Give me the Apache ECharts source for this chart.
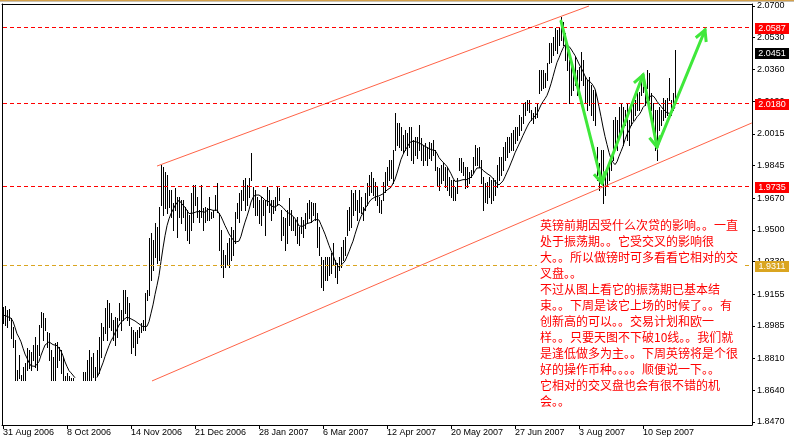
<!DOCTYPE html>
<html><head><meta charset="utf-8">
<script src="https://cdn.jsdelivr.net/npm/echarts@6/dist/echarts.min.js"></script>
<style>html,body{margin:0;padding:0;background:#fff}#c{width:794px;height:445px}</style>
</head><body><div id="c"></div>
<script>
// ---- data ----
const dateLabels = ['31 Aug 2006','8 Oct 2006','14 Nov 2006','21 Dec 2006','28 Jan 2007','6 Mar 2007','12 Apr 2007','20 May 2007','27 Jun 2007','3 Aug 2007','10 Sep 2007'];
const dateLabelBars = [0,32,64,96,128,160,192,224,256,288,320];
const priceTicks = [2.0700,2.0530,2.0360,2.0190,2.0015,1.9845,1.9670,1.9500,1.9330,1.9155,1.8985,1.8810,1.8640,1.8470];

const highs = [
1.9086,1.9092,1.9070,1.9076,1.9028,1.8980,1.8910,1.8749,1.8829,1.8722,
1.8765,1.8786,1.8867,1.8856,1.8845,1.8883,1.8926,1.8883,1.8990,1.9060,
1.9054,1.9028,1.8953,1.8947,1.8856,1.8818,1.8894,1.8899,1.8872,1.8856,
1.8818,1.8717,1.8733,1.8717,1.8706,1.8706,1.8680,1.8660,1.8670,1.8690,
1.8738,1.8738,1.8802,1.8856,1.8818,1.8840,1.8765,1.8856,1.8926,1.9001,
1.8980,1.9081,1.9124,1.9108,1.9054,1.9017,1.9033,1.9028,1.9108,1.9070,
1.9178,1.9178,1.9140,1.9108,1.8980,1.8963,1.8953,1.8963,1.8980,1.9001,
1.9017,1.9162,1.9178,1.9456,1.9483,1.9446,1.9537,1.9515,1.9622,1.9848,
1.9837,1.9810,1.9794,1.9714,1.9714,1.9644,1.9724,1.9676,1.9676,1.9660,
1.9660,1.9622,1.9606,1.9579,1.9698,1.9740,1.9740,1.9676,1.9606,1.9740,
1.9617,1.9622,1.9617,1.9676,1.9596,1.9606,1.9687,1.9751,1.9590,1.9499,
1.9392,1.9365,1.9430,1.9456,1.9515,1.9499,1.9596,1.9644,1.9698,1.9714,
1.9767,1.9778,1.9740,1.9778,1.9912,1.9730,1.9714,1.9676,1.9660,1.9676,
1.9660,1.9660,1.9730,1.9714,1.9660,1.9660,1.9676,1.9730,1.9724,1.9606,
1.9569,1.9564,1.9606,1.9671,1.9606,1.9569,1.9553,1.9569,1.9515,1.9569,
1.9553,1.9590,1.9644,1.9660,1.9649,1.9644,1.9644,1.9590,1.9515,1.9354,
1.9338,1.9354,1.9354,1.9354,1.9376,1.9430,1.9338,1.9322,1.9354,1.9408,
1.9446,1.9462,1.9606,1.9622,1.9714,1.9698,1.9714,1.9660,1.9714,1.9676,
1.9622,1.9698,1.9751,1.9794,1.9810,1.9778,1.9756,1.9730,1.9676,1.9660,
1.9756,1.9810,1.9837,1.9874,1.9874,1.9928,2.0126,2.0073,2.0073,2.0051,
2.0008,2.0035,2.0019,2.0051,2.0051,1.9982,1.9998,1.9998,2.0062,1.9992,
1.9955,1.9966,1.9944,1.9971,1.9966,1.9982,1.9928,1.9837,1.9832,1.9848,
1.9858,1.9837,1.9837,1.9783,1.9767,1.9767,1.9730,1.9778,1.9885,1.9885,
1.9864,1.9837,1.9837,1.9810,1.9821,1.9890,1.9955,1.9939,1.9944,1.9874,
1.9783,1.9751,1.9756,1.9783,1.9767,1.9778,1.9767,1.9848,1.9890,1.9890,
1.9944,1.9971,1.9998,1.9998,2.0019,2.0035,2.0051,2.0051,2.0116,2.0105,
2.0180,2.0185,2.0196,2.0196,2.0142,2.0126,2.0158,2.0180,2.0357,2.0357,
2.0357,2.0341,2.0394,2.0502,2.0502,2.0534,2.0582,2.0571,2.0587,2.0641,
2.0614,2.0555,2.0480,2.0410,2.0394,2.0373,2.0426,2.0357,2.0373,2.0453,
2.0410,2.0319,2.0303,2.0319,2.0276,2.0250,2.0250,1.9944,1.9858,1.9928,
1.9928,1.9805,1.9837,1.9874,1.9890,2.0089,2.0105,2.0089,2.0158,2.0180,
2.0158,2.0142,2.0180,2.0089,2.0180,2.0196,2.0196,2.0234,2.0239,2.0319,
2.0341,2.0250,2.0357,2.0341,2.0234,2.0180,2.0142,2.0142,2.0158,2.0142,
2.0207,2.0196,2.0207,2.0314,2.0196,2.0234,2.0464
];
const lows = [
1.9001,1.8990,1.8980,1.9017,1.8920,1.8872,1.8660,1.8650,1.8706,1.8655,
1.8640,1.8665,1.8749,1.8760,1.8749,1.8802,1.8765,1.8749,1.8829,1.8980,
1.8910,1.8963,1.8872,1.8802,1.8670,1.8640,1.8660,1.8765,1.8802,1.8733,
1.8650,1.8620,1.8600,1.8580,1.8590,1.8560,1.8540,1.8520,1.8530,1.8560,
1.8600,1.8620,1.8640,1.8660,1.8680,1.8711,1.8670,1.8722,1.8733,1.8818,
1.8910,1.8947,1.8910,1.8980,1.8963,1.8910,1.8883,1.8926,1.9017,1.8963,
1.9017,1.9054,1.9017,1.8990,1.8840,1.8872,1.8829,1.8894,1.8926,1.8953,
1.8963,1.8963,1.9124,1.9151,1.9231,1.9285,1.9354,1.9322,1.9338,1.9633,
1.9579,1.9617,1.9590,1.9622,1.9569,1.9499,1.9606,1.9462,1.9569,1.9537,
1.9569,1.9499,1.9446,1.9430,1.9499,1.9542,1.9633,1.9569,1.9542,1.9569,
1.9499,1.9542,1.9553,1.9553,1.9564,1.9569,1.9606,1.9596,1.9392,1.9301,
1.9247,1.9301,1.9312,1.9301,1.9338,1.9365,1.9430,1.9564,1.9542,1.9606,
1.9660,1.9606,1.9633,1.9676,1.9767,1.9622,1.9579,1.9579,1.9537,1.9526,
1.9579,1.9472,1.9633,1.9596,1.9553,1.9590,1.9606,1.9633,1.9660,1.9446,
1.9472,1.9392,1.9430,1.9526,1.9499,1.9499,1.9472,1.9430,1.9419,1.9483,
1.9462,1.9510,1.9537,1.9564,1.9542,1.9579,1.9553,1.9408,1.9365,1.9194,
1.9178,1.9231,1.9231,1.9258,1.9269,1.9312,1.9247,1.9215,1.9285,1.9301,
1.9338,1.9365,1.9472,1.9499,1.9515,1.9579,1.9606,1.9553,1.9596,1.9590,
1.9553,1.9606,1.9633,1.9687,1.9703,1.9687,1.9660,1.9633,1.9596,1.9590,
1.9660,1.9703,1.9740,1.9767,1.9778,1.9751,1.9928,1.9955,1.9944,1.9928,
1.9912,1.9928,1.9901,1.9944,1.9874,1.9858,1.9901,1.9885,1.9928,1.9874,
1.9848,1.9874,1.9848,1.9885,1.9874,1.9901,1.9821,1.9740,1.9714,1.9751,
1.9767,1.9730,1.9714,1.9687,1.9676,1.9660,1.9660,1.9698,1.9821,1.9810,
1.9794,1.9724,1.9730,1.9751,1.9783,1.9805,1.9848,1.9848,1.9837,1.9751,
1.9606,1.9649,1.9644,1.9676,1.9644,1.9660,1.9687,1.9730,1.9767,1.9794,
1.9821,1.9874,1.9890,1.9917,1.9928,1.9928,1.9966,1.9982,2.0008,2.0035,
2.0073,2.0116,2.0142,2.0132,2.0089,2.0073,2.0100,2.0105,2.0234,2.0250,
2.0260,2.0266,2.0303,2.0394,2.0400,2.0437,2.0464,2.0448,2.0491,2.0518,
2.0491,2.0410,2.0357,2.0180,2.0223,2.0250,2.0276,2.0223,2.0234,2.0303,
2.0276,2.0180,2.0142,2.0169,2.0116,2.0089,2.0062,1.9767,1.9714,1.9767,
1.9644,1.9687,1.9740,1.9767,1.9821,1.9874,1.9955,1.9928,2.0008,2.0035,
1.9955,2.0062,1.9982,1.9955,2.0062,2.0089,2.0116,2.0142,2.0142,2.0223,
2.0239,2.0169,2.0260,2.0196,2.0142,2.0051,1.9928,1.9874,2.0035,2.0062,
2.0089,2.0105,2.0116,2.0196,2.0116,2.0142,2.0180
];

const levelLines = [2.0587, 2.0180, 1.9735];   // red dashed levels
const supportLevel = 1.9311;                    // goldenrod dashed level
const lastPrice = 2.0451;                       // current price box (no line)
const upperChannel = [[77, 1.9842], [293, 2.0700]];
const lowerChannel = [[74.5, 1.8690], [374.4, 2.0073]];
const arrowPath = [[279, 2.0619], [299.5, 1.9751], [320, 2.0330], [327, 1.9944], [351, 2.0571]];
const maPeriod = 10;
const clipFloor = 1.8695;   // the picture shows nothing below this price
const noteLines = [
'英镑前期因受什么次贷的影响。。一直',
'处于振荡期。。它受交叉的影响很',
'大。。所以做镑时可多看看它相对的交',
'叉盘。。',
'不过从图上看它的振荡期已基本结',
'束。。下周是该它上场的时候了。。有',
'创新高的可以。。交易计划和欧一',
'样。。只要天图不下破10线。。我们就',
'是逢低做多为主。。下周英镑将是个很',
'好的操作币种。。。。顺便说一下。。',
'它相对的交叉盘也会有很不错的机',
'会。。'
];

// ---- build ----
const barData = highs.map((h, i) => [i, h, lows[i]]);
const mids = highs.map((h, i) => (h + lows[i]) / 2);
const maData = mids.map((_, i) => {
  const s = Math.max(0, i - maPeriod + 1);
  let sum = 0; for (let k = s; k <= i; k++) sum += mids[k];
  const v = sum / (i - s + 1);
  return [i, v < clipFloor ? null : v];
});
const arrowData = [];
for (let k = 0; k < arrowPath.length - 1; k++) arrowData.push([arrowPath[k][0], arrowPath[k][1], arrowPath[k+1][0], arrowPath[k+1][1]]);

// level table: [price, style index]
const levelStyles = [
  { color: '#ff0000', line: true },
  { color: '#daa520', line: true },
  { color: '#000000', line: false }
];
const levelData = levelLines.map(v => [v, 0]).concat([[supportLevel, 1], [lastPrice, 2]]);

const GREEN = '#3fe83a';
const FONT = 'Liberation Sans';

const chart = echarts.init(document.getElementById('c'), null, { renderer: 'canvas' });
chart.setOption({
  animation: false,
  backgroundColor: '#fff',
  grid: { left: 2, right: 42, top: 4, bottom: 20, containLabel: false },
  xAxis: [{
    type: 'value', min: -0.5, max: 374.5, position: 'bottom',
    axisLine: { show: true, onZero: false, lineStyle: { color: '#000', width: 1 } },
    axisTick: { show: true, length: 4, customValues: dateLabelBars, lineStyle: { color: '#000' } },
    axisLabel: { show: true, customValues: dateLabelBars, align: 'left', margin: 3, color: '#000', fontFamily: FONT, fontSize: 9,
                 formatter: v => dateLabels[dateLabelBars.indexOf(v)] || '' },
    splitLine: { show: false }
  }, {
    type: 'value', min: -0.5, max: 374.5, position: 'top',
    axisLine: { show: true, onZero: false, lineStyle: { color: '#000', width: 1 } },
    axisTick: { show: false }, axisLabel: { show: false }, splitLine: { show: false }
  }],
  yAxis: [{
    type: 'value', min: 1.84539, max: 2.07107, position: 'right',
    axisLine: { show: true, onZero: false, lineStyle: { color: '#000', width: 1 } },
    axisTick: { show: true, length: 3, customValues: priceTicks, lineStyle: { color: '#000' } },
    axisLabel: { show: true, customValues: priceTicks, margin: 5, color: '#000', fontFamily: FONT, fontSize: 9,
                 formatter: v => v.toFixed(4) },
    splitLine: { show: false }
  }, {
    type: 'value', min: 1.84539, max: 2.07107, position: 'left',
    axisLine: { show: true, onZero: false, lineStyle: { color: '#000', width: 1 } },
    axisTick: { show: false }, axisLabel: { show: false }, splitLine: { show: false }
  }],
  series: [
    {
      name: 'channels', type: 'line', data: [], clip: false, silent: true,
      markLine: { silent: true, symbol: ['none', 'none'], animation: false, label: { show: false },
        lineStyle: { color: '#ff6347', type: 'solid', width: 1 },
        data: [
          [{ coord: upperChannel[0] }, { coord: upperChannel[1] }],
          [{ coord: lowerChannel[0] }, { coord: lowerChannel[1] }]
        ] }
    },
    {
      name: 'bars', type: 'custom', data: barData, clip: false, silent: true, z: 2,
      encode: { x: 0, y: [1, 2] },
      renderItem: (params, api) => {
        const i = api.value(0), hi = api.value(1);
        if (hi < clipFloor) return null;
        const lo = Math.max(api.value(2), clipFloor);
        const a = api.coord([i, hi]), b = api.coord([i, lo]);
        const y0 = Math.round(a[1]), y1 = Math.round(b[1]);
        return { type: 'rect', shape: { x: Math.round(a[0]), y: y0, width: 1, height: Math.max(1, y1 - y0 + 1) },
                 style: { fill: '#000' } };
      }
    },
    {
      name: 'MA', type: 'line', data: maData, symbol: 'none', connectNulls: false, silent: true,
      lineStyle: { color: '#000', width: 1 }, z: 3
    },
    {
      name: 'levels', type: 'custom', data: levelData, clip: false, silent: true, z: 5,
      encode: { y: 0 },
      renderItem: (params, api) => {
        const cs = params.coordSys;
        const price = api.value(0), st = levelStyles[api.value(1)];
        const row = Math.round(api.coord([0, price])[1]);
        const right = cs.x + cs.width;
        const kids = [];
        if (st.line) kids.push({ type: 'line', shape: { x1: cs.x + 1, y1: row + 0.5, x2: right, y2: row + 0.5 },
                                 style: { stroke: st.color, lineWidth: 1, lineDash: [4, 3] } });
        kids.push({ type: 'rect', shape: { x: right + 3, y: row - 4, width: 34, height: 11 }, style: { fill: st.color } });
        kids.push({ type: 'text', style: { text: price.toFixed(4), x: right + 20, y: row + 1.5, align: 'center', verticalAlign: 'middle',
                                           fill: '#ffffff', font: '9px "Liberation Sans"' } });
        return { type: 'group', children: kids };
      }
    },
    {
      name: 'arrows', type: 'custom', data: arrowData, clip: false, silent: true, z: 6,
      encode: { x: [0, 2], y: [1, 3] },
      renderItem: (params, api) => {
        const a = api.coord([api.value(0), api.value(1)]);
        const b = api.coord([api.value(2), api.value(3)]);
        const ang = Math.atan2(a[1] - b[1], a[0] - b[0]);
        const L = 12, w = 28 * Math.PI / 180;
        const p1 = [b[0] + L * Math.cos(ang + w), b[1] + L * Math.sin(ang + w)];
        const p2 = [b[0] + L * Math.cos(ang - w), b[1] + L * Math.sin(ang - w)];
        return { type: 'group', children: [
          { type: 'line', shape: { x1: a[0], y1: a[1], x2: b[0], y2: b[1] }, style: { stroke: GREEN, lineWidth: 3, lineCap: 'round' } },
          { type: 'polyline', shape: { points: [p1, b, p2] }, style: { stroke: GREEN, lineWidth: 3, fill: null, lineJoin: 'miter' } }
        ] };
      }
    }
  ],
  graphic: [
    { type: 'rect', z: 100, shape: { x: 0, y: 0, width: 794, height: 1 }, style: { fill: '#d4a04a' } },
    { type: 'rect', z: 100, shape: { x: 0, y: 1, width: 794, height: 1 }, style: { fill: '#c8c0b0' } },
    { type: 'text', z: 100, x: 537, y: 216,
      style: { text: noteLines.join('\n'), fill: '#ff0000', font: '12px "Noto Sans CJK SC"', lineHeight: 16,
               backgroundColor: '#ffffff', padding: [1, 4, 2, 3] } }
  ]
});
</script>
</body></html>
